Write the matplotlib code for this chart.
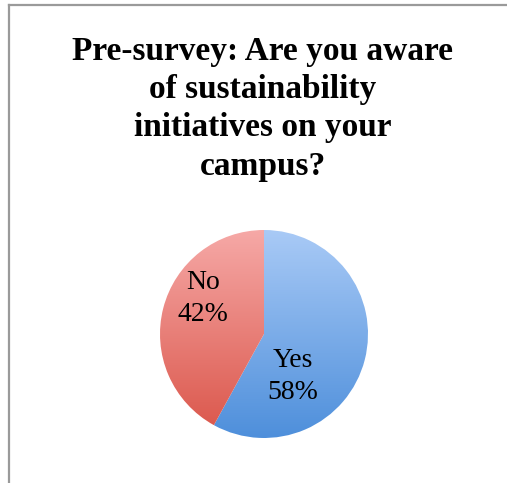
import numpy as np
import matplotlib
matplotlib.use("Agg")
import matplotlib.pyplot as plt
from matplotlib.colors import LinearSegmentedColormap
from matplotlib.lines import Line2D

# survey answers
answers = ["Yes", "No"]
shares = [58, 42]
title = "Pre-survey: Are you aware\nof sustainability\ninitiatives on your\ncampus?"

# gradient fills, top colour -> bottom colour
fills = [("#a9caf6", "#4e8fdb"), ("#f6a9a7", "#dc5a4f")]
label_pos = [(0.28, -0.41), (-0.59, 0.34)]

W, H = 507, 483
fig = plt.figure(figsize=(W / 100, H / 100), dpi=100)

# grey frame (left and top edges)
fig.add_artist(Line2D([8.5 / W, 8.5 / W], [0, 1 - 4.5 / H], color="#9a9a9a", lw=1.6))
fig.add_artist(Line2D([8.5 / W, 1], [1 - 4.5 / H, 1 - 4.5 / H], color="#9a9a9a", lw=1.6))

fig.text(263 / W, 1 - 36 / H, title, ha="center", va="top",
         fontsize=24, fontweight="bold", family="Liberation Serif",
         linespacing=1.3)

cx, cy, r = 264, 334, 104
ax = fig.add_axes([(cx - r) / W, (H - cy - r) / H, 2 * r / W, 2 * r / H])

wedges, _ = ax.pie(shares, startangle=90, counterclock=False,
                   wedgeprops=dict(linewidth=0))

grad = np.linspace(0, 1, 256).reshape(-1, 1)
for w, (top, bot) in zip(wedges, fills):
    ext = w.get_path().get_extents()
    cmap = LinearSegmentedColormap.from_list("g", [bot, top])
    img = ax.imshow(grad, cmap=cmap, origin="lower", aspect="auto",
                    extent=[ext.x0, ext.x1, ext.y0, ext.y1], zorder=1)
    img.set_clip_path(w)
    w.set_facecolor("none")

for name, val, (x, y) in zip(answers, shares, label_pos):
    ax.text(x, y, f"{name}\n{val}%", ha="center", va="center",
            fontsize=20, family="Liberation Serif", linespacing=1.4, zorder=3)

ax.set_xlim(-1, 1)
ax.set_ylim(-1, 1)
ax.set_aspect("equal")
ax.axis("off")

fig.savefig("out.png", dpi=100, facecolor="white")
